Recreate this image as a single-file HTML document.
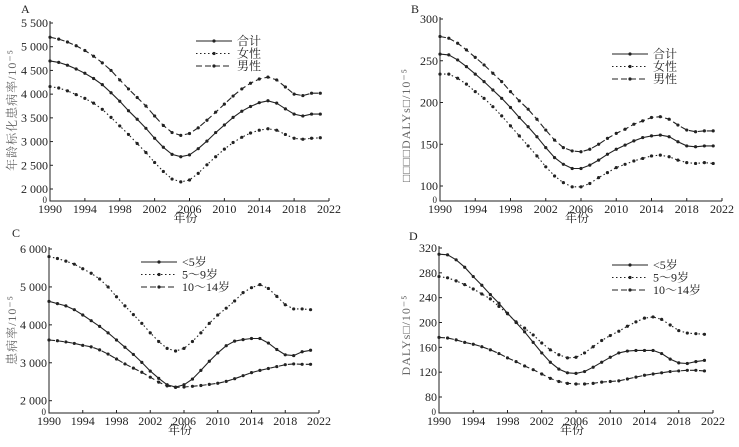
<!DOCTYPE html>
<html><head><meta charset="utf-8"><style>
body{margin:0;background:#fff}
svg text{font-family:"Liberation Serif","Noto Serif CJK SC",serif;fill:#222}
svg text.yl{fill:#666;letter-spacing:1px}
</style></head><body>
<svg id="s" width="739" height="442" xmlns="http://www.w3.org/2000/svg"></svg>
<script>
const S=document.getElementById('s');let h='';
const yrs=[];for(let i=0;i<32;i++)yrs.push(1990+i);
function panel(p){
 const X=y=>p.x0+(y-1990)/32*(p.x1-p.x0);
 const Y=v=>p.ya+(v-p.va)/(p.vb-p.va)*(p.yb-p.ya);
 h+=`<text x="${p.lx}" y="${p.ly}" font-size="12">${p.L}</text>`;
 h+=`<path d="M${p.x0} ${p.ytop}V${p.bot}H${p.x1}" stroke="#222" fill="none" stroke-width="1"/>`;
 for(let t=1990;t<=2022;t+=4){const x=X(t);h+=`<line x1="${x}" y1="${p.bot}" x2="${x}" y2="${p.bot-3}" stroke="#222"/><text x="${x}" y="${p.bot+12}" font-size="12" text-anchor="middle">${t}</text>`;}
 p.ticks.forEach(([v,l])=>{const y=Y(v);h+=`<line x1="${p.x0}" y1="${y}" x2="${p.x0+3}" y2="${y}" stroke="#222"/><text x="${p.x0-2}" y="${y+4}" font-size="12" text-anchor="end">${l}</text>`;});
 h+=`<text x="${p.x0-3}" y="${p.bot+2}" font-size="9" text-anchor="end">0</text>`;
 h+=`<text x="${(p.x0+p.x1)/2-4}" y="${p.bot+21}" font-size="12" text-anchor="middle">年份</text>`;
 h+=`<text class="yl" transform="translate(${p.yx},${p.yy}) rotate(-90)" font-size="12" text-anchor="middle">${p.yl}</text>`;
 const dash=['','1.5 2.5','6 3'];
 p.s.forEach((d,i)=>{let pts=d.map((v,j)=>X(yrs[j]).toFixed(1)+','+Y(v).toFixed(1)).join(' ');
  h+=`<polyline points="${pts}" fill="none" stroke="#222" stroke-width="1.1" stroke-dasharray="${dash[i]}"/>`;
  d.forEach((v,j)=>h+=`<circle cx="${X(yrs[j])}" cy="${Y(v)}" r="1.6" fill="#222"/>`);
  const ly=p.gy+i*12.5;
  h+=`<line x1="${p.gx}" y1="${ly}" x2="${p.gx+36}" y2="${ly}" stroke="#222" stroke-width="1.1" stroke-dasharray="${dash[i]}"/><circle cx="${p.gx+18}" cy="${ly}" r="1.6" fill="#222"/>`;
  h+=`<text x="${p.gx+41}" y="${ly+4}" font-size="12">${p.names[i]}</text>`;
 });
}
panel({L:'A',lx:21,ly:13,x0:50,x1:329,ya:23,yb:189,va:5500,vb:2000,ytop:21,bot:201,
 ticks:[[5500,'5 500'],[5000,'5 000'],[4500,'4 500'],[4000,'4 000'],[3500,'3 500'],[3000,'3 000'],[2500,'2 500'],[2000,'2 000']],
 yx:16,yy:110,yl:'年龄标化患病率/10⁻⁵',gx:196,gy:41,names:['合计','女性','男性'],
 s:[[4700,4670,4610,4530,4440,4330,4200,4030,3850,3650,3470,3280,3070,2880,2730,2680,2720,2850,3010,3190,3350,3510,3640,3740,3820,3860,3810,3690,3580,3540,3580,3580],
 [4160,4130,4070,3990,3910,3810,3680,3510,3330,3150,2960,2770,2560,2370,2210,2150,2190,2330,2510,2680,2840,2980,3090,3180,3240,3270,3240,3150,3070,3050,3070,3080],
 [5200,5160,5100,5020,4920,4800,4660,4500,4300,4110,3930,3750,3540,3340,3190,3130,3170,3290,3450,3620,3790,3960,4110,4230,4320,4360,4300,4150,4000,3970,4020,4020]]});
panel({L:'B',lx:411,ly:13,x0:440,x1:722,ya:19,yb:186,va:300,vb:100,ytop:17,bot:201,
 ticks:[[300,'300'],[250,'250'],[200,'200'],[150,'150'],[100,'100']],
 yx:410,yy:125,yl:'□□□□DALYs□/10⁻⁵',gx:612,gy:54,names:['合计','女性','男性'],
 s:[[258,257,251,243,234,225,215,205,194,182,171,159,146,134,126,121,121,125,131,138,144,149,154,158,160,161,159,153,148,147,148,148],
 [234,234,229,222,213,205,195,184,172,160,148,136,123,112,104,99,99,103,110,116,122,126,130,133,136,137,135,131,128,127,128,127],
 [279,277,271,263,254,245,235,225,213,202,192,180,167,155,146,142,141,144,150,157,163,168,174,178,182,183,180,173,167,165,166,166]]});
panel({L:'C',lx:12,ly:237,x0:49,x1:319,ya:249,yb:400.7,va:6000,vb:2000,ytop:247,bot:413,
 ticks:[[6000,'6 000'],[5000,'5 000'],[4000,'4 000'],[3000,'3 000'],[2000,'2 000']],
 yx:16,yy:330,yl:'患病率/10⁻⁵',gx:141,gy:262,names:['&lt;5岁','5～9岁','10～14岁'],
 s:[[4620,4560,4500,4400,4260,4110,3960,3790,3600,3410,3220,3010,2780,2590,2420,2360,2420,2570,2800,3040,3260,3450,3570,3610,3640,3640,3520,3350,3210,3190,3290,3330],
 [5800,5750,5680,5600,5480,5360,5210,5000,4740,4500,4270,4040,3790,3560,3380,3310,3380,3560,3790,4040,4260,4440,4630,4850,4980,5060,4960,4750,4530,4420,4420,4400],
 [3600,3580,3550,3510,3460,3420,3340,3230,3100,2970,2860,2750,2620,2490,2390,2350,2360,2380,2400,2430,2460,2510,2580,2660,2740,2800,2850,2900,2950,2970,2960,2960]]});
panel({L:'D',lx:409,ly:240,x0:439,x1:713,ya:248,yb:397,va:320,vb:80,ytop:246,bot:413,
 ticks:[[320,'320'],[280,'280'],[240,'240'],[200,'200'],[160,'160'],[120,'120'],[80,'80']],
 yx:410,yy:335,yl:'DALYs□/10⁻⁵',gx:612,gy:265,names:['&lt;5岁','5～9岁','10～14岁'],
 s:[[310,309,301,289,274,260,245,231,215,200,185,168,151,136,125,119,118,121,128,136,144,151,154,155,155,155,150,141,135,134,137,139],
 [274,272,267,261,254,246,238,226,214,201,191,180,167,156,148,143,144,151,161,171,179,186,194,201,207,209,205,196,187,183,182,181],
 [176,175,172,168,165,161,156,150,143,137,130,124,117,110,105,102,101,101,102,104,105,106,109,112,115,117,119,121,122,123,123,122]]});
S.innerHTML=h;
</script>
</body></html>
